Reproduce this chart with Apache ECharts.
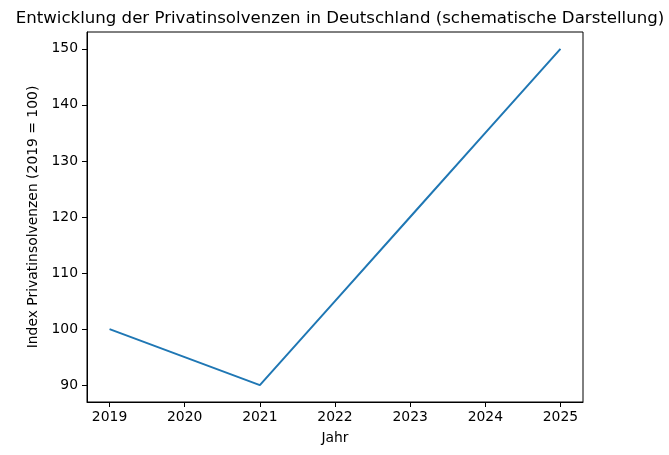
<!DOCTYPE html>
<html>
<head>
<meta charset="utf-8">
<script src="https://cdn.jsdelivr.net/npm/echarts@6/dist/echarts.min.js"></script>
<style>html,body{margin:0;padding:0;background:#fff}#c{width:669px;height:455px}</style>
</head>
<body>
<div id="c"></div>
<script>
const years = [2019, 2020, 2021, 2022, 2023, 2024, 2025];
const indexValues = [100, 95, 90, 105, 120, 135, 150];
const xTicks = [2019, 2020, 2021, 2022, 2023, 2024, 2025];
const yTicks = [90, 100, 110, 120, 130, 140, 150];

const font = 'DejaVu Sans';
const chart = echarts.init(document.getElementById('c'), null, {renderer: 'canvas'});
chart.setOption({
  animation: false,
  backgroundColor: '#fff',
  title: {
    text: 'Entwicklung der Privatinsolvenzen in Deutschland (schematische Darstellung)',
    left: 335, top: 5, textAlign: 'center',
    textStyle: {fontFamily: font, fontSize: 16.6, fontWeight: 'normal', color: '#000'}
  },
  grid: {left: 87, right: 86, top: 32, bottom: 53, show: true, borderColor: '#000', borderWidth: 1, containLabel: false},
  xAxis: {
    type: 'value', min: 2018.7, max: 2025.3,
    name: 'Jahr', nameLocation: 'middle', nameGap: 29,
    nameTextStyle: {fontFamily: font, fontSize: 13.9, color: '#000'},
    splitLine: {show: false},
    axisLine: {show: true, lineStyle: {color: '#000', width: 1}},
    axisTick: {show: true, inside: false, length: 5, lineStyle: {color: '#000', width: 1}, customValues: xTicks},
    axisLabel: {margin: 8, fontFamily: font, fontSize: 13.9, color: '#000', customValues: xTicks, formatter: v => String(Math.round(v))}
  },
  yAxis: {
    type: 'value', min: 87, max: 153,
    name: 'Index Privatinsolvenzen (2019 = 100)', nameLocation: 'middle', nameGap: 44, nameRotate: 90,
    nameTextStyle: {fontFamily: font, fontSize: 13.9, color: '#000'},
    splitLine: {show: false},
    axisLine: {show: true, lineStyle: {color: '#000', width: 1}},
    axisTick: {show: true, inside: false, length: 5, lineStyle: {color: '#000', width: 1}, customValues: yTicks},
    axisLabel: {margin: 9, fontFamily: font, fontSize: 13.9, color: '#000', customValues: yTicks, formatter: v => String(Math.round(v))}
  },
  series: [{
    type: 'line',
    data: years.map((y, i) => [y, indexValues[i]]),
    showSymbol: false, symbol: 'none',
    lineStyle: {color: '#1f77b4', width: 2},
    itemStyle: {color: '#1f77b4'}
  }]
});
</script>
</body>
</html>
